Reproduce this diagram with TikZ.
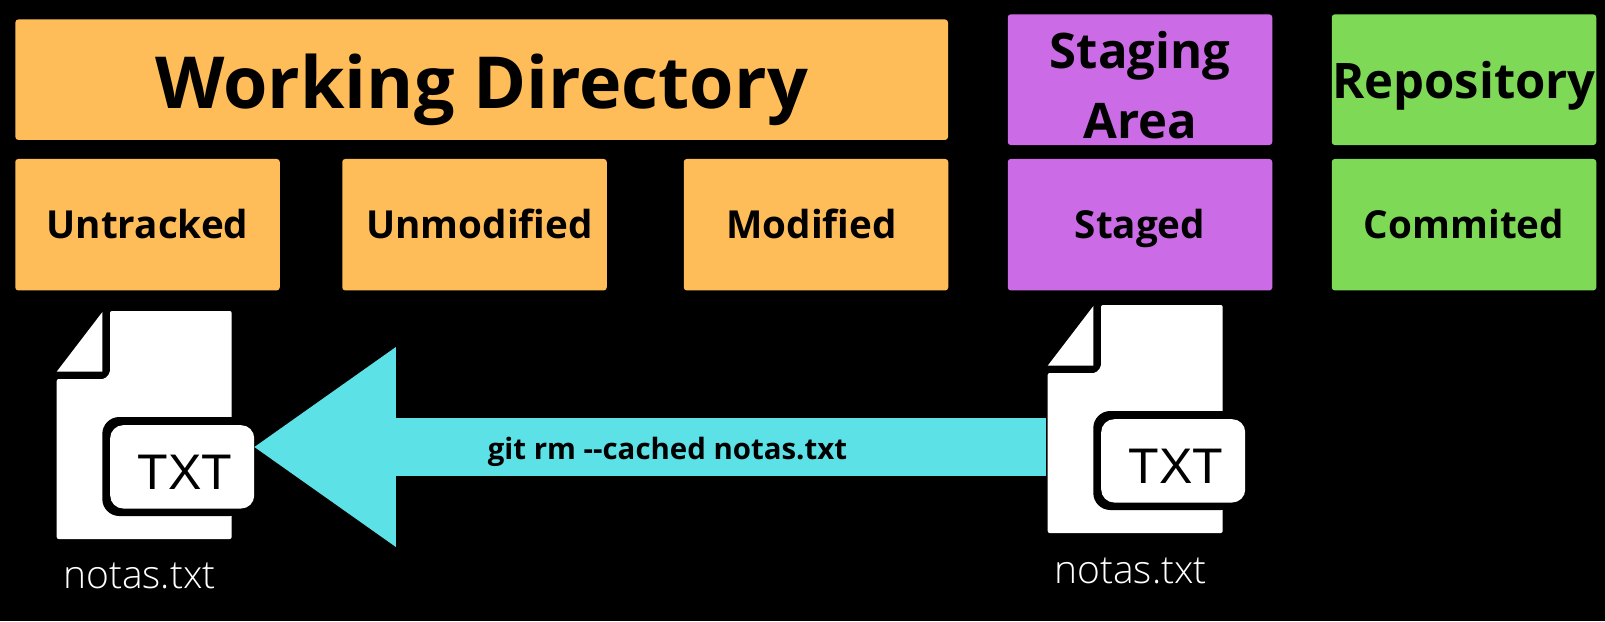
\documentclass[tikz,border=0pt]{standalone}
\usepackage{fontspec}
\setmainfont{Open Sans}
\newfontfamily\lightfont{Open Sans Light}
\newfontfamily\tagfont{Liberation Sans}
\usetikzlibrary{arrows.meta}
\definecolor{wdorange}{HTML}{FFBD59}
\definecolor{stpurple}{HTML}{CB6CE6}
\definecolor{rpgreen}{HTML}{7ED957}
\definecolor{arcyan}{HTML}{5CE1E6}
\newcommand{\fsz}[1]{\fontsize{#1}{#1}\selectfont}
\tikzset{
  x=1pt,y=-1pt,
  basedrop/.style={text height=2*#1,text depth=0pt},
  boxbase/.style={rounded corners=3pt,inner sep=0pt,text=black,font=\fsz{38.6}\bfseries,align=center,minimum width=264.5pt,minimum height=131.5pt,basedrop=14pt},
  orangebox/.style={boxbase,fill=wdorange},
  purplebox/.style={boxbase,fill=stpurple},
  greenbox/.style={boxbase,fill=rpgreen},
  headtext/.style={font=\fontsize{49}{70}\selectfont\bfseries,basedrop=18.6pt},
  fatarrow/.style={draw=arcyan,line width=58pt,-{Triangle[length=141.5pt,width=200pt,line width=0pt]}},
  cmdtext/.style={font=\fsz{29.4}\bfseries,text=black,inner sep=0pt},
  filename/.style={font=\fsz{39}\lightfont,text=white,inner sep=0pt},
  pics/fileicon/.style={code={
    \fill[white,rounded corners=2pt] (53.3,0) -- (175,0) -- (175,228) -- (0,228) -- (0,68) -- (48,68) -- (53.3,62) -- cycle;
    \fill[white] (0,60.7) -- (45.7,1) -- (45.7,60.7) -- cycle;
    \fill[black,rounded corners=17pt] (45.6,106) rectangle (190,205);
    \node[fill=white,rounded corners=13pt,minimum width=144pt,minimum height=83.3pt,inner sep=0pt,anchor=north west] (tab) at (53.3,114) {};
    \node[font=\fsz{50}\tagfont,text=black,inner sep=0pt,anchor=base] (tag) at (128.3,178.3) {TXT};
  }}
}
\begin{document}
\begin{tikzpicture}
\useasboundingbox (0,0) rectangle (1605,621);
\fill[black] (0,0) rectangle (1605,621);
% headers
\node[orangebox,minimum width=932.6pt,minimum height=120.5pt,font=\fsz{71.8}\bfseries,basedrop=28.7pt] (wd) at (481.7,79.7) {Working Directory};
\node[purplebox,headtext,minimum height=130.7pt,basedrop=58.3pt] (sa) at (1140,79.7) {Staging\\Area};
\node[greenbox,headtext,minimum height=130.7pt] (rp) at (1464,79.7) {Repository};
% states
\node[orangebox] (ut) at (147.5,224.7) {Untracked};
\node[orangebox] (um) at (474.5,224.7) {\hspace*{10pt}Unmodified};
\node[orangebox] (md) at (816,224.7) {\hspace*{-9pt}Modified};
\node[purplebox] (sg) at (1140,224.7) {Staged};
\node[greenbox] (cm) at (1464,224.7) {Commited};
% files
\pic (L) at (56.7,311) {fileicon};
\pic (R) at (1047.7,305) {fileicon};
\node[filename,anchor=base] (nl) at (139.5,588) {notas.txt};
\node[filename,anchor=base] (nr) at (1130.5,583) {notas.txt};
% arrow
\coordinate (astart) at (1046,447);
\draw[fatarrow] (astart) -- (Ltab.east |- astart);
\node[cmdtext,anchor=base] (cmd) at (667.5,459) {git rm -{}-cached notas.txt};
\end{tikzpicture}
\end{document}
